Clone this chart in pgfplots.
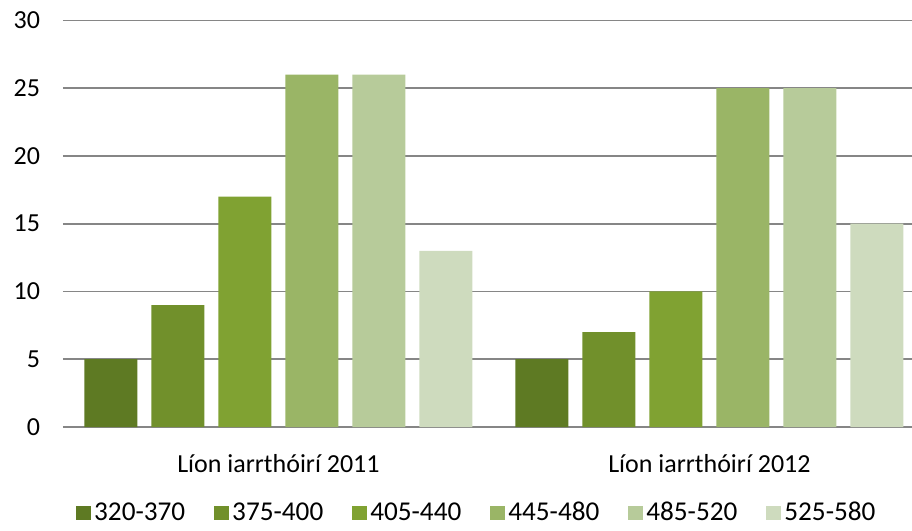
\documentclass[border=0pt]{standalone}
\usepackage{pgfplots}
\pgfplotsset{compat=1.18}
\usepackage{fontspec}
\setmainfont{Carlito}
\definecolor{c1}{RGB}{94,122,35}
\definecolor{c2}{RGB}{113,144,43}
\definecolor{c3}{RGB}{128,162,50}
\definecolor{c4}{RGB}{154,181,102}
\definecolor{c5}{RGB}{183,203,154}
\definecolor{c6}{RGB}{206,219,190}
\definecolor{gridc}{RGB}{134,134,134}
\begin{document}
\begin{tikzpicture}
\useasboundingbox (-31.5pt,-52pt) rectangle (424.5pt,213.5pt);
\begin{axis}[
  at={(0pt,0pt)}, anchor=south west,
  scale only axis, width=424.5pt, height=203.3pt,
  font=\fontsize{13}{15}\selectfont,
  ybar=7pt, bar width=26.5pt,
  xmin=-0.5, xmax=1.47, ymin=0, ymax=30,
  ytick={0,5,10,15,20,25,30},
  xtick={0,1}, xticklabels={Líon iarrthóirí 2011, Líon iarrthóirí 2012},
  major tick length=0pt,
  axis line style={draw=none},
  ymajorgrids, grid style={gridc, line width=0.8pt},
  yticklabel style={xshift=-8pt},
  xticklabel style={yshift=-10pt},
  /pgf/number format/assume math mode=true,
  legend columns=6,
  legend style={draw=none, at={(0.488,-0.212)}, anchor=center,
    /tikz/every even column/.append style={column sep=13pt},
    font=\fontsize{13.6}{15}\selectfont, inner sep=0pt,
    nodes={inner xsep=1.5pt}},
  legend image code/.code={\fill[#1] (0pt,-3.6pt) rectangle (7.5pt,3.6pt);},
]
\addplot[fill=c1, draw=none] coordinates {(0,5) (1,5)};
\addplot[fill=c2, draw=none] coordinates {(0,9) (1,7)};
\addplot[fill=c3, draw=none] coordinates {(0,17) (1,10)};
\addplot[fill=c4, draw=none] coordinates {(0,26) (1,25)};
\addplot[fill=c5, draw=none] coordinates {(0,26) (1,25)};
\addplot[fill=c6, draw=none] coordinates {(0,13) (1,15)};
\legend{320-370,375-400,405-440,445-480,485-520,525-580}
\end{axis}
\end{tikzpicture}
\end{document}
